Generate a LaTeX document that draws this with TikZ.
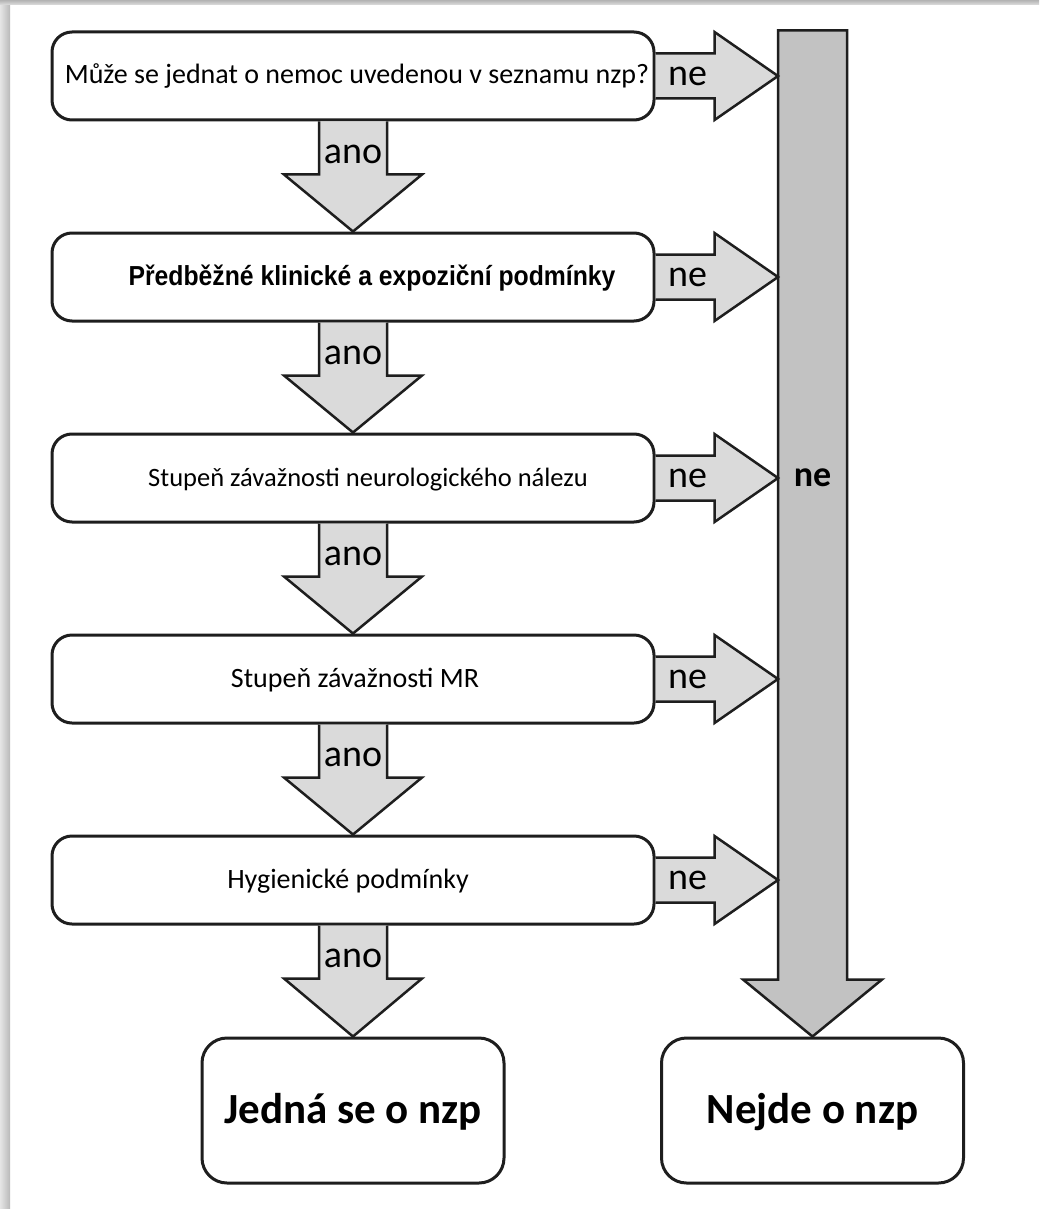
\documentclass[tikz,border=0pt]{standalone}
\usepackage{fontspec}
\setmainfont{Carlito}
\newfontfamily\arialfont[FakeStretch=0.9]{Liberation Sans}
\usetikzlibrary{calc}
\definecolor{lc}{HTML}{1E1E1E}
\definecolor{af}{HTML}{DADADA}
\definecolor{bf}{HTML}{C2C2C2}
\begin{document}
\begin{tikzpicture}[x=1pt,y=-1pt,
  box/.style={draw=lc, line width=3pt, rounded corners=20pt, fill=white,
    minimum width=602pt, minimum height=88pt, inner sep=0pt,
    text height=20pt, text depth=4pt,
    font=\fontsize{28}{32}\selectfont},
  endbox/.style={draw=lc, line width=3pt, rounded corners=25pt, fill=white,
    minimum width=302pt, minimum height=145pt, inner sep=0pt,
    text height=32pt, text depth=6pt,
    font=\fontsize{43}{47}\selectfont\bfseries},
  blk/.style={draw=lc, line width=2.5pt, fill=af, line join=miter},
  bigblk/.style={draw=lc, line width=2.5pt, fill=bf, line join=miter},
  lbl/.style={inner sep=0pt, font=\fontsize{38}{42}\selectfont}]
\useasboundingbox (0,0) rectangle (1039,1209);
\fill[white] (0,0) rectangle (1039,1209);
\shade[left color=gray!20, right color=gray!55] (0,0) rectangle (10,1209);
\shade[top color=gray!60, bottom color=gray!25] (0,0) rectangle (1039,5);

\node[box] (b1) at (353,76) {\hspace*{8pt}\fontsize{28}{32}\selectfont Může se jednat o nemoc uvedenou v seznamu nzp?};
\node[box] (b2) at (353,277) {\hspace*{38pt}\fontsize{27.5}{31}\selectfont\arialfont\bfseries Předběžné klinické a expoziční podmínky};
\node[box] (b3) at (353,478) {\hspace*{30pt}\fontsize{26.5}{30}\selectfont Stupeň závažnosti neurologického nálezu};
\node[box] (b4) at (353,679) {\hspace*{4pt}Stupeň závažnosti MR};
\node[box] (b5) at (353,880) {\hspace*{-10pt}Hygienické podmínky};
\node[endbox] (jed) at (353,1110.5) {Jedná se o nzp};
\node[endbox] (nej) at (812.5,1110.5) {Nejde o nzp};

% big "ne" bar
\path (b1.north -| nej.north) coordinate (bt);
\coordinate (barL) at ($(bt)+(-34.5,0)$);
\draw[bigblk] (barL) -- ($(bt)+(34.5,0)$) -- ($(nej.north)+(34.5,-57)$)
  -- ($(nej.north)+(69.5,-57)$) -- (nej.north) -- ($(nej.north)+(-69.5,-57)$)
  -- ($(nej.north)+(-34.5,-57)$) -- cycle;
\node[inner sep=0pt, font=\fontsize{36}{40}\selectfont\bfseries] (barlbl) at (b3 -| bt) {ne};

% down "ano" arrows
\foreach \a/\b in {b1/b2,b2/b3,b3/b4,b4/b5,b5/jed} {
  \draw[blk] ($(\a.south)+(-34,0)$) -- ($(\a.south)+(-34,53)$) -- ($(\a.south)+(-69,53)$)
    -- (\b.north) -- ($(\a.south)+(69,53)$) -- ($(\a.south)+(34,53)$) -- ($(\a.south)+(34,0)$);
  \node[lbl] at ($(\a.south)+(0,33)$) {ano};
}

% right "ne" arrows
\foreach \a in {b1,b2,b3,b4,b5} {
  \draw[blk] ($(\a.east)+(0,-22.5)$) -- ($(\a.east)+(59,-22.5)$) -- ($(\a.east)+(59,-44)$)
    -- (\a.east -| barL) -- ($(\a.east)+(59,44)$) -- ($(\a.east)+(59,22.5)$) -- ($(\a.east)+(0,22.5)$);
  \node[lbl] at ($(\a.east)+(32,0)$) {ne};
}
\end{tikzpicture}
\end{document}
